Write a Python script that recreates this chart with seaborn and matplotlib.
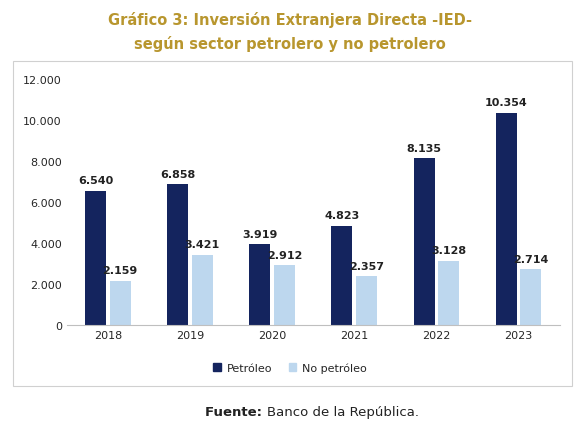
import matplotlib
matplotlib.use("Agg")
import matplotlib.pyplot as plt
import matplotlib.patches as patches
import pandas as pd
import seaborn as sns

years = ["2018", "2019", "2020", "2021", "2022", "2023"]
petroleo = [6540, 6858, 3919, 4823, 8135, 10354]
no_petroleo = [2159, 3421, 2912, 2357, 3128, 2714]
series = ["Petróleo", "No petróleo"]
colors = ["#14245E", "#BDD7EE"]

df = pd.DataFrame({
    "year": years * 2,
    "value": petroleo + no_petroleo,
    "serie": [series[0]] * len(years) + [series[1]] * len(years),
})

def fmt(v):
    return f"{int(v):,}".replace(",", ".")

sns.set_style("white")
fig = plt.figure(figsize=(5.8, 4.27), dpi=100)
ax = fig.add_axes([0.115, 0.237, 0.85, 0.576])

sns.barplot(data=df, x="year", y="value", hue="serie", palette=colors,
            width=0.6, gap=0.15, saturation=1, linewidth=0, ax=ax, legend=False)

for cont in ax.containers:
    ax.bar_label(cont, labels=[fmt(b.get_height()) for b in cont],
                 padding=4, fontsize=8, fontweight="bold", color="#222222")

ax.set_ylim(0, 12000)
ax.set_yticks(range(0, 12001, 2000))
ax.set_yticklabels([fmt(v) for v in range(0, 12001, 2000)], fontsize=8)
ax.tick_params(axis="x", labelsize=8, length=0)
ax.tick_params(axis="y", length=0)
ax.set_xlabel("")
ax.set_ylabel("")
for s in ["top", "right", "left"]:
    ax.spines[s].set_visible(False)
ax.spines["bottom"].set_color("#BFBFBF")

handles = [patches.Patch(color=c, label=l) for c, l in zip(colors, series)]
fig.legend(handles=handles, loc="center", bbox_to_anchor=(0.5, 0.136), ncol=2,
           frameon=False, fontsize=8, handlelength=0.7, handleheight=0.7,
           columnspacing=1.5, handletextpad=0.5)

fig.patches.append(patches.Rectangle((0.022, 0.094), 0.964, 0.761,
                                     transform=fig.transFigure, fill=False,
                                     edgecolor="#D0D0D0", linewidth=0.8))

fig.text(0.5, 0.952, "Gráfico 3: Inversión Extranjera Directa -IED-",
         ha="center", va="center", fontsize=10.5, fontweight="bold", color="#B8962E")
fig.text(0.5, 0.897, "según sector petrolero y no petrolero",
         ha="center", va="center", fontsize=10.5, fontweight="bold", color="#B8962E")

fig.text(0.46, 0.033, "Banco de la República.", ha="left", va="center", fontsize=9.5, color="#222222")
fig.text(0.46, 0.033, "Fuente: ", ha="right", va="center", fontsize=9.5,
         fontweight="bold", color="#222222")

fig.savefig("out.png", dpi=100)
